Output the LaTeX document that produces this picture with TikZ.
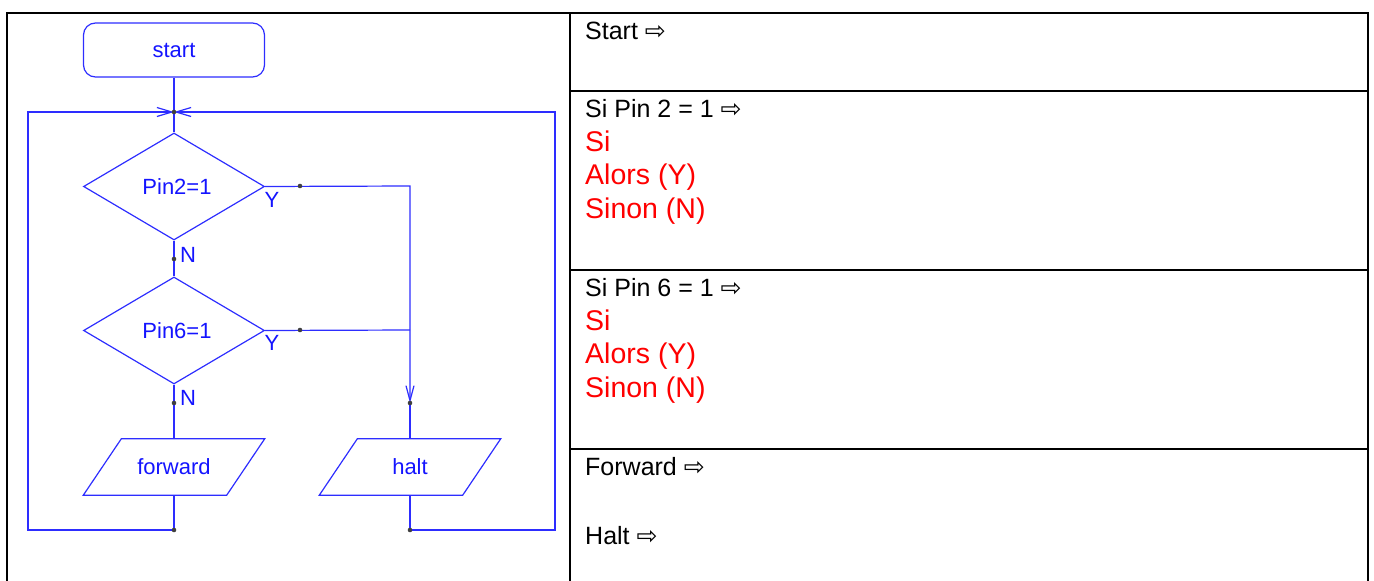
\documentclass[tikz,border=0pt]{standalone}
\usepackage{fontspec}
\setmainfont{Liberation Sans}
\newfontfamily\dv{DejaVu Sans}
\usetikzlibrary{shapes.geometric,arrows.meta}
\definecolor{fb}{RGB}{45,45,255}
\definecolor{ft}{RGB}{20,20,255}
\definecolor{rt}{RGB}{255,0,0}
\newcommand{\rarr}{{\dv\fontsize{25}{30}\selectfont ⇨}}
\begin{document}
\begin{tikzpicture}[x=1pt,y=-1pt,
  fl/.style={draw=fb, line width=1.2pt},
  tip/.style={-{Straight Barb[length=15pt,width=9pt]}},
  ftext/.style={text=ft, font=\fontsize{22}{26}\selectfont, inner sep=0pt},
  startbox/.style={ftext, draw=fb, line width=1.2pt, rounded corners=12pt, minimum width=181pt, minimum height=54pt},
  dia/.style={ftext, diamond, draw=fb, line width=1.2pt, minimum width=181pt, minimum height=107pt},
  para/.style={ftext, minimum width=181pt, minimum height=56pt},
  dotn/.style={circle, fill=black!75, inner sep=0pt, minimum size=4.6pt},
  lab/.style={ftext},
  tbl/.style={draw=black, line width=2.6pt},
  btxt/.style={anchor=base west, inner sep=0pt, font=\fontsize{25}{30}\selectfont},
  rtxt/.style={anchor=base west, inner sep=0pt, text=rt, font=\fontsize{28.5}{33}\selectfont}
]
\useasboundingbox (0,0) rectangle (1374,581);
% table
\draw[tbl] (7,581) -- (7,13) -- (1368,13) -- (1368,581);
\draw[tbl] (570,13) -- (570,581);
\draw[tbl] (570,91) -- (1368,91);
\draw[tbl] (570,270) -- (1368,270);
\draw[tbl] (570,449) -- (1368,449);
% right column texts
\node[btxt] (t1) at (585,39) {Start \rarr};
\node[btxt] (t2) at (585,117) {Si Pin 2 = 1 \rarr};
\node[rtxt] (t3) at (585,151) {Si};
\node[rtxt] (t4) at (585,184.5) {Alors (Y)};
\node[rtxt] (t5) at (585,218.5) {Sinon (N)};
\node[btxt] (t6) at (585,296) {Si Pin 6 = 1 \rarr};
\node[rtxt] (t7) at (585,330) {Si};
\node[rtxt] (t8) at (585,363.5) {Alors (Y)};
\node[rtxt] (t9) at (585,397.5) {Sinon (N)};
\node[btxt] (t10) at (585,475) {Forward \rarr};
\node[btxt] (t11) at (585,544) {Halt \rarr};
% flowchart nodes
\node[startbox] (start) at (174,50) {start};
\coordinate (J) at (174,112);
\node[dia] (d1) at (174,186.5) {\hspace*{6pt}Pin2=1};
\node[dia] (d2) at (174,330.5) {\hspace*{6pt}Pin6=1};
\node[para] (fwd) at (174,467) {forward};
\node[para] (halt) at (410,467) {halt};
\draw[fl] ([xshift=38pt]fwd.north west) -- (fwd.north east) -- ([xshift=-38pt]fwd.south east) -- (fwd.south west) -- cycle;
\draw[fl] ([xshift=38pt]halt.north west) -- (halt.north east) -- ([xshift=-38pt]halt.south east) -- (halt.south west) -- cycle;
\coordinate (r1) at (410,186);
\coordinate (r2) at (410,330);
\coordinate (ah) at (410,403);
\coordinate (c1) at (300,186);
\coordinate (c2) at (300,330);
\coordinate (n1) at (174,259);
\coordinate (n2) at (174,403);
\coordinate (b1) at (174,530);
\coordinate (b2) at (410,530);
\coordinate (LB) at (28,530);
\coordinate (LT) at (28,112);
\coordinate (RB) at (555,530);
\coordinate (RT) at (555,112);
% connectors
\draw[fl] (start.south) -- (J) -- (d1.north);
\draw[fl] (d1.south) -- (d2.north);
\draw[fl] (d2.south) -- (fwd.south |- fwd.north);
\draw[fl,-{Straight Barb[length=15pt,width=8pt]}] (d1.east) -- (r1) -- (ah);
\draw[fl] (ah) -- (halt.north);
\draw[fl] (d2.east) -- (r2);
\draw[fl,tip] (fwd.south) -- (b1) -- (LB) -- (LT) -- (J);
\draw[fl,tip] (halt.south) -- (b2) -- (RB) -- (RT) -- (J);
% dots
\node[dotn] (dJ) at (J) {};
\node[dotn] (dc1) at (c1) {};
\node[dotn] (dc2) at (c2) {};
\node[dotn] (dn1) at (n1) {};
\node[dotn] (dn2) at (n2) {};
\node[dotn] (dah) at (ah) {};
\node[dotn] (db1) at (b1) {};
\node[dotn] (db2) at (b2) {};
% labels
\node[lab] (y1) at (272,200) {Y};
\node[lab] (y2) at (272,343) {Y};
\node[lab] (nl1) at (188,255) {N};
\node[lab] (nl2) at (188,398) {N};
\end{tikzpicture}
\end{document}
